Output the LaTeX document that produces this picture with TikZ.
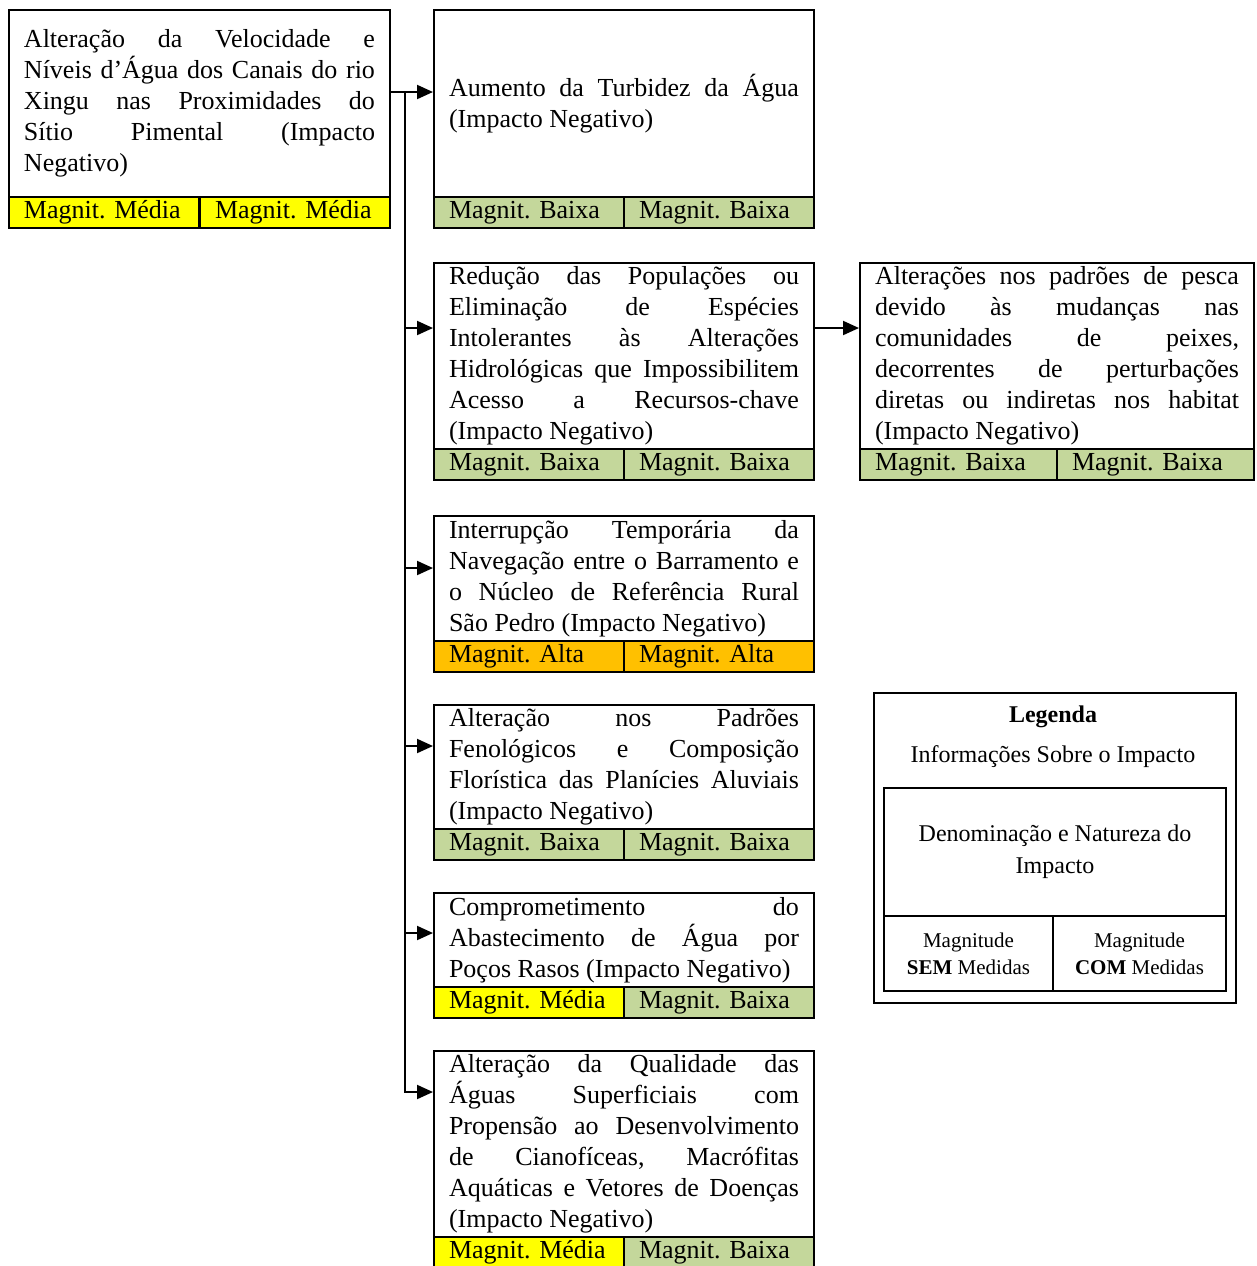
\documentclass[tikz,border=0pt]{standalone}
\usepackage{fontspec}
\setmainfont{Liberation Serif}
\usetikzlibrary{arrows.meta}

\newcommand{\bodyfont}{\fontsize{13}{15.5}\selectfont\frenchspacing\hyphenpenalty=10000\exhyphenpenalty=10000\tolerance=10000\relax}
\newcommand{\legfont}{\fontsize{12}{16}\selectfont}
\newcommand{\legsmall}{\fontsize{10.5}{13.5}\selectfont}

\definecolor{magBaixa}{RGB}{196,215,155}
\definecolor{magMedia}{RGB}{255,255,0}
\definecolor{magAlta}{RGB}{255,192,0}

\begin{document}
\begin{tikzpicture}[x=0.5pt,y=-0.5pt,
  impact/.style={draw, line width=1pt, fill=white, anchor=north west,
    inner xsep=7.5pt, inner ysep=0pt, text width=175pt, align=justify, font=\bodyfont},
  mag/.style={draw, line width=1pt, anchor=north west, inner xsep=7.5pt, inner ysep=0pt,
    text width=80pt, minimum height=15.5pt, align=left, font=\bodyfont},
  baixa/.style={mag, fill=magBaixa},
  media/.style={mag, fill=magMedia},
  alta/.style={mag, fill=magAlta},
  link/.style={line width=1pt},
  arr/.style={line width=1pt, -{Triangle[length=8pt,width=7pt]}},
  legbox/.style={draw, line width=1pt, anchor=north west, inner sep=0pt, align=center}
]
\useasboundingbox (0,0) rectangle (1257,1266);

% source impact
\node[impact, text width=175.5pt, minimum height=93.5pt] (b1) at (8,9)
  {Alteração da Velocidade e\linebreak Níveis d’Água dos Canais do rio\linebreak Xingu nas Proximidades do\linebreak Sítio Pimental (Impacto\linebreak Negativo)};
\node[media] (b1s) at (8,196) {Magnit.~Média};
\node[media] (b1c) at (199,196) {Magnit.~Média};

% turbidity
\node[impact, minimum height=93.5pt] (b2) at (433,9)
  {Aumento da Turbidez da Água\linebreak (Impacto Negativo)};
\node[baixa] (b2s) at (433,196) {Magnit.~Baixa};
\node[baixa] (b2c) at (623,196) {Magnit.~Baixa};

% populations
\node[impact, minimum height=93pt] (b3) at (433,262)
  {Redução das Populações ou\linebreak Eliminação de Espécies\linebreak Intolerantes às Alterações\linebreak Hidrológicas que Impossibilitem\linebreak Acesso a Recursos-chave\linebreak (Impacto Negativo)};
\node[baixa] (b3s) at (433,448) {Magnit.~Baixa};
\node[baixa] (b3c) at (623,448) {Magnit.~Baixa};

% fishing patterns
\node[impact, text width=182pt, minimum height=93pt] (b4) at (859,262)
  {Alterações nos padrões de pesca\linebreak devido às mudanças nas\linebreak comunidades de peixes,\linebreak decorrentes de perturbações\linebreak diretas ou indiretas nos habitat\linebreak (Impacto Negativo)};
\node[baixa, text width=83.5pt] (b4s) at (859,448) {Magnit.~Baixa};
\node[baixa, text width=83.5pt] (b4c) at (1056,448) {Magnit.~Baixa};

% navigation
\node[impact, minimum height=62.5pt] (b5) at (433,515)
  {Interrupção Temporária da\linebreak Navegação entre o Barramento e\linebreak o Núcleo de Referência Rural\linebreak São Pedro (Impacto Negativo)};
\node[alta] (b5s) at (433,640) {Magnit.~Alta};
\node[alta] (b5c) at (623,640) {Magnit.~Alta};

% phenology
\node[impact, minimum height=62pt] (b6) at (433,704)
  {Alteração nos Padrões\linebreak Fenológicos e Composição\linebreak Florística das Planícies Aluviais\linebreak (Impacto Negativo)};
\node[baixa] (b6s) at (433,828) {Magnit.~Baixa};
\node[baixa] (b6c) at (623,828) {Magnit.~Baixa};

% water supply
\node[impact, minimum height=47pt] (b7) at (433,892)
  {Comprometimento do\linebreak Abastecimento de Água por\linebreak Poços Rasos (Impacto Negativo)};
\node[media] (b7s) at (433,986) {Magnit.~Média};
\node[baixa] (b7c) at (623,986) {Magnit.~Baixa};

% water quality
\node[impact, minimum height=93pt] (b8) at (433,1050)
  {Alteração da Qualidade das\linebreak Águas Superficiais com\linebreak Propensão ao Desenvolvimento\linebreak de Cianofíceas, Macrófitas\linebreak Aquáticas e Vetores de Doenças\linebreak (Impacto Negativo)};
\node[media] (b8s) at (433,1236) {Magnit.~Média};
\node[baixa] (b8c) at (623,1236) {Magnit.~Baixa};

% connectors
\coordinate (trunk) at (405,92);
\coordinate (j3) at (405,328);
\coordinate (j5) at (405,568);
\coordinate (j6) at (405,746);
\coordinate (j7) at (405,933);
\coordinate (j8) at (405,1092);
\draw[link] (b1.east |- trunk) -- (trunk);
\draw[arr] (trunk) -- (trunk -| b2.west);
\draw[arr] (trunk) -- (j8) -- (j8 -| b8.west);
\draw[arr] (j3) -- (j3 -| b3.west);
\draw[arr] (j5) -- (j5 -| b5.west);
\draw[arr] (j6) -- (j6 -| b6.west);
\draw[arr] (j7) -- (j7 -| b7.west);
\draw[arr] (j3 -| b3.east) -- (j3 -| b4.west);

% legend
\node[legbox, minimum width=181pt, minimum height=155pt] (leg) at (873,692) {};
\node[font=\legfont\bfseries] (legt) at (1053,717) {Legenda};
\node[font=\legfont] (legi) at (1053,757) {Informações Sobre o Impacto};
\node[legbox, minimum width=171pt, minimum height=64pt, font=\legfont] (legn) at (883,787)
  {Denominação e Natureza do\\Impacto};
\node[legbox, minimum width=84.5pt, minimum height=37.5pt, font=\legsmall] (legs) at (883,915)
  {Magnitude\\\textbf{SEM} Medidas};
\node[legbox, minimum width=86.5pt, minimum height=37.5pt, font=\legsmall] (legc) at (1052,915)
  {Magnitude\\\textbf{COM} Medidas};
\end{tikzpicture}
\end{document}
